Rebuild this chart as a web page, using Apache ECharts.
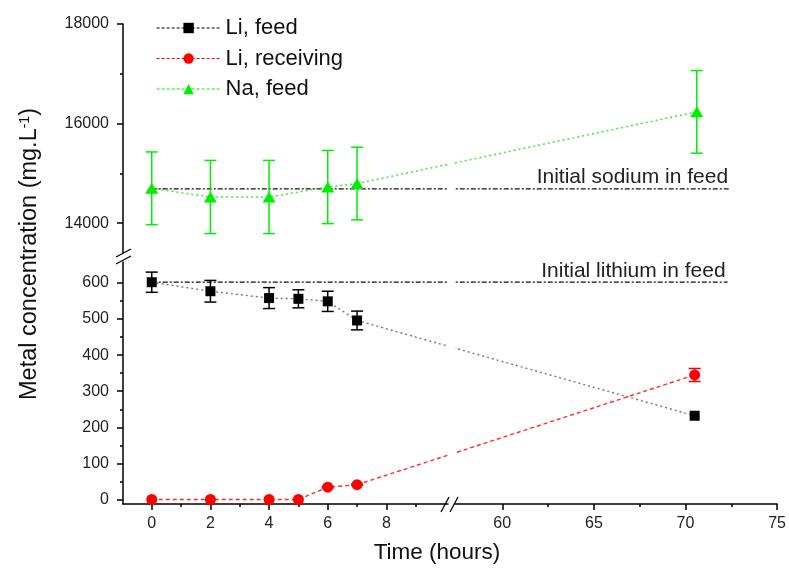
<!DOCTYPE html>
<html><head><meta charset="utf-8">
<script src="https://cdn.jsdelivr.net/npm/echarts@6/dist/echarts.min.js"></script>
<style>html,body{margin:0;padding:0;background:#fff}#c{width:789px;height:575px}</style>
</head><body><div id="c"></div>
<script>
// ---- data ----
const timeLi = [0, 2, 4, 5, 6, 7, 70.5];
const liFeed = [602, 577, 558, 556, 549, 496, 232];
const liFeedErr = [28, 30, 29, 25, 28, 26, 0];
const liRecv = [0, 0, 0, 0, 34, 41, 345];
const liRecvErr = [0, 0, 0, 0, 2, 2, 18];
const timeNa = [0, 2, 4, 6, 7, 70.5];
const naFeed = [14700, 14525, 14525, 14725, 14795, 16235];
const naFeedErr = [730, 735, 735, 735, 730, 830];
const initialNa = 14690;
const initialLi = 602;
const refLineSpan = [0, 72.3];
const refLabels = ['Initial sodium in feed', 'Initial lithium in feed'];
const seriesNames = ['Li, feed', 'Li, receiving', 'Na, feed'];
const xTicksLeft = [0, 2, 4, 6, 8];
const xMinorLeft = [1, 3, 5, 7, 9];
const xTicksRight = [60, 65, 70, 75];
const xMinorRight = [62.5, 67.5, 72.5];
const yTicksUpper = [14000, 16000, 18000];
const yMinorUpper = [15000, 17000];
const yTicksLower = [0, 100, 200, 300, 400, 500, 600];
const yMinorLower = [50, 150, 250, 350, 450, 550];
const xLeftRange = [-0.98, 10.1];
const xRightRange = [57.42, 75];
const yUpperRange = [13400, 18000];
const yLowerRange = [-12.5, 658];
const xBreakValue = 30;

const FONT = '"Liberation Sans", Arial, sans-serif';
const chart = echarts.init(document.getElementById('c'));

const isLeft = x => x < xBreakValue;
const axisIdx = (panel, left) => (panel === 'upper' ? 0 : 1) + (left ? 0 : 2);
const plain = v => String(v);

function xAxisCfg(grid, range, ticks, major, show) {
  return {
    gridIndex: grid, type: 'value', min: range[0], max: range[1], position: 'bottom',
    show: show,
    axisLine: { show: major, onZero: false, lineStyle: { color: '#000', width: 1.5 } },
    axisTick: { show: true, customValues: ticks, length: major ? 6 : 3, lineStyle: { color: '#000', width: 1.5 } },
    axisLabel: { show: major, customValues: ticks, formatter: plain, fontSize: 16, color: '#222', margin: 12, fontFamily: FONT },
    splitLine: { show: false }
  };
}
function yAxisCfg(grid, range, ticks, major, show) {
  return {
    gridIndex: grid, type: 'value', min: range[0], max: range[1], position: 'left',
    show: show,
    axisLine: { show: major, onZero: false, lineStyle: { color: '#000', width: 1.5 } },
    axisTick: { show: true, customValues: ticks, length: major ? 6 : 3, lineStyle: { color: '#000', width: 1.5 } },
    axisLabel: { show: major, customValues: ticks, formatter: plain, fontSize: 16, color: '#222', margin: 14, fontFamily: FONT },
    splitLine: { show: false }
  };
}

const sets = [
  { name: seriesNames[0], t: timeLi, v: liFeed, e: liFeedErr, panel: 'lower', symbol: 'rect', size: 10, color: '#000',
    line: { color: '#777', type: [2, 3], width: 1.4 }, legendLine: { color: '#000', type: [3, 2], width: 1.2 } },
  { name: seriesNames[1], t: timeLi, v: liRecv, e: liRecvErr, panel: 'lower', symbol: 'circle', size: 11, color: '#ff0000',
    line: { color: '#ff2a2a', type: [4, 3], width: 1.4 }, legendLine: { color: '#ff0000', type: [3, 2], width: 1.2 } },
  { name: seriesNames[2], t: timeNa, v: naFeed, e: naFeedErr, panel: 'upper', symbol: 'triangle', size: [13, 11], color: '#00ee00',
    line: { color: '#33ee33', type: [2, 3], width: 1.5 }, legendLine: { color: '#00ee00', type: [3, 2], width: 1.2 } }
];

function errSeries(name, color, idx, data) {
  return {
    type: 'custom', name: name, xAxisIndex: idx, yAxisIndex: idx, z: 2, data: data,
    renderItem: function (params, api) {
      const x = api.value(0), y = api.value(1), e = api.value(2);
      if (!e) return null;
      const top = api.coord([x, y + e]), bot = api.coord([x, y - e]);
      const cap = 6;
      const st = { stroke: color, lineWidth: 1.5, fill: null };
      return { type: 'group', children: [
        { type: 'line', shape: { x1: top[0], y1: top[1], x2: bot[0], y2: bot[1] }, style: st },
        { type: 'line', shape: { x1: top[0] - cap, y1: top[1], x2: top[0] + cap, y2: top[1] }, style: st },
        { type: 'line', shape: { x1: bot[0] - cap, y1: bot[1], x2: bot[0] + cap, y2: bot[1] }, style: st }
      ] };
    }
  };
}

function toPixel(panel, x, y) {
  const i = axisIdx(panel, isLeft(x));
  return chart.convertToPixel({ xAxisIndex: i, yAxisIndex: i }, [x, y]);
}

const series = [];
const bridges = [];
sets.forEach(s => {
  const all = s.t.map((x, i) => [x, s.v[i], s.e[i]]);
  const L = all.filter(p => isLeft(p[0]));
  const R = all.filter(p => !isLeft(p[0]));
  const iL = axisIdx(s.panel, true), iR = axisIdx(s.panel, false);
  series.push({ type: 'line', name: s.name, xAxisIndex: iL, yAxisIndex: iL, data: L.map(p => [p[0], p[1]]),
    symbol: s.symbol, symbolSize: s.size, itemStyle: { color: s.color, opacity: 1 }, lineStyle: s.line, z: 3 });
  series.push({ type: 'scatter', name: s.name, xAxisIndex: iR, yAxisIndex: iR, data: R.map(p => [p[0], p[1]]),
    symbol: s.symbol, symbolSize: s.size, itemStyle: { color: s.color, opacity: 1 }, z: 3 });
  series.push(errSeries(s.name, s.color, iL, L));
  series.push(errSeries(s.name, s.color, iR, R));
  if (L.length && R.length) {
    const a = L[L.length - 1], b = R[0];
    bridges.push({ panel: s.panel, from: [a[0], a[1]], to: [b[0], b[1]], style: s.line, label: null });
  }
});
bridges.push({ panel: 'upper', from: [refLineSpan[0], initialNa], to: [refLineSpan[1], initialNa],
  style: { color: '#111', type: [5, 2, 2, 2], width: 1.3 }, label: refLabels[0] });
bridges.push({ panel: 'lower', from: [refLineSpan[0], initialLi], to: [refLineSpan[1], initialLi],
  style: { color: '#111', type: [5, 2, 2, 2], width: 1.3 }, label: refLabels[1] });

series.push({
  type: 'custom', coordinateSystem: 'none', z: 1, silent: true,
  data: bridges.map((b, i) => [i]),
  renderItem: function (params, api) {
    const b = bridges[api.value(0)];
    const p1 = toPixel(b.panel, b.from[0], b.from[1]);
    const p2 = toPixel(b.panel, b.to[0], b.to[1]);
    const children = [{ type: 'line', shape: { x1: p1[0], y1: p1[1], x2: p2[0], y2: p2[1] },
      style: { stroke: b.style.color, lineWidth: b.style.width, lineDash: b.style.type, fill: null } }];
    if (b.label) {
      children.push({ type: 'text', x: p2[0] - 2, y: p2[1] - 1,
        style: { text: b.label, align: 'right', verticalAlign: 'bottom', fontSize: 21, fontFamily: FONT, fill: '#222' } });
    }
    return { type: 'group', children: children };
  }
});

chart.setOption({
  animation: false,
  backgroundColor: '#fff',
  grid: [
    { left: 123, top: 24, width: 325, height: 229 },
    { left: 123, top: 262, width: 325, height: 242 },
    { left: 455, top: 24, width: 325, height: 229 },
    { left: 455, top: 262, width: 325, height: 242 }
  ],
  xAxis: [
    xAxisCfg(0, xLeftRange, [], false, false),
    xAxisCfg(1, xLeftRange, xTicksLeft, true, true),
    xAxisCfg(2, xRightRange, [], false, false),
    xAxisCfg(3, xRightRange, xTicksRight, true, true),
    xAxisCfg(1, xLeftRange, xMinorLeft, false, true),
    xAxisCfg(3, xRightRange, xMinorRight, false, true)
  ],
  yAxis: [
    yAxisCfg(0, yUpperRange, yTicksUpper, true, true),
    yAxisCfg(1, yLowerRange, yTicksLower, true, true),
    yAxisCfg(2, yUpperRange, [], false, false),
    yAxisCfg(3, yLowerRange, [], false, false),
    yAxisCfg(0, yUpperRange, yMinorUpper, false, true),
    yAxisCfg(1, yLowerRange, yMinorLower, false, true)
  ],
  legend: {
    orient: 'vertical', left: 151, top: 12, itemWidth: 64, itemHeight: 13, itemGap: 8.5,
    selectedMode: false,
    textStyle: { fontSize: 22, fontFamily: FONT, color: '#111' },
    data: sets.map(s => ({ name: s.name, lineStyle: s.legendLine }))
  },
  graphic: [
    { type: 'rect', shape: { x: 448, y: 24, width: 7, height: 476 }, style: { fill: '#fff' }, z: 50 },
    { type: 'line', shape: { x1: 116, y1: 257, x2: 131, y2: 249 }, style: { stroke: '#000', lineWidth: 1.3 }, z: 60 },
    { type: 'line', shape: { x1: 116, y1: 264, x2: 131, y2: 256 }, style: { stroke: '#000', lineWidth: 1.3 }, z: 60 },
    { type: 'line', shape: { x1: 441, y1: 512, x2: 449, y2: 497 }, style: { stroke: '#000', lineWidth: 1.3 }, z: 60 },
    { type: 'line', shape: { x1: 450, y1: 512, x2: 458, y2: 497 }, style: { stroke: '#000', lineWidth: 1.3 }, z: 60 },
    { type: 'text', x: 437, y: 553, z: 60,
      style: { text: 'Time (hours)', fontSize: 22.5, fontFamily: FONT, fill: '#111', align: 'center', verticalAlign: 'middle' } },
    { type: 'text', x: 30, y: 254, rotation: Math.PI / 2, z: 60,
      style: { text: '{a|Metal concentration (mg.L}{s|-1}{a|)}', align: 'center', verticalAlign: 'middle',
        rich: { a: { fontSize: 23.5, fontFamily: FONT, fill: '#111' },
                s: { fontSize: 14, fontFamily: FONT, fill: '#111', verticalAlign: 'top' } } } }
  ],
  series: series
});
</script>
</body></html>
